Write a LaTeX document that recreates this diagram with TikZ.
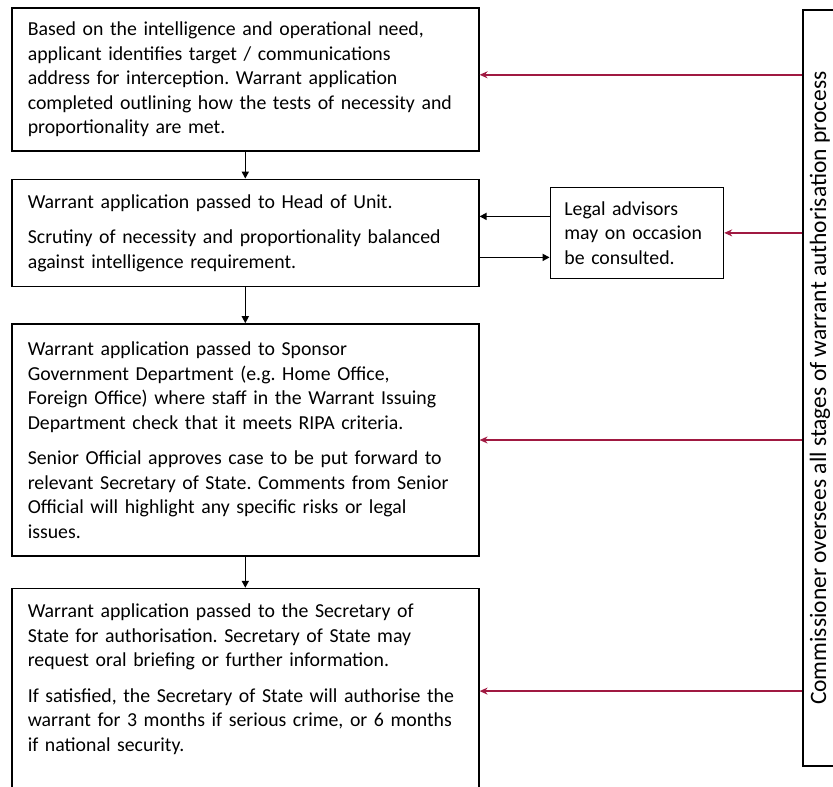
\documentclass[tikz,border=0pt]{standalone}
\usepackage{fontspec}
\setmainfont{Carlito}
\frenchspacing
\usetikzlibrary{positioning,arrows.meta}
\definecolor{oversight}{RGB}{160,25,65}

\begin{document}
\begin{tikzpicture}[x=1pt, y=-1pt,
    stage/.style = {draw, line width=1.6pt, text width=435pt, align=left, inner xsep=16pt, inner ysep=0pt, font=\fontsize{19.8}{24.5}\selectfont},
    advice/.style = {draw, line width=1.6pt, text width=145pt, align=left, inner xsep=14pt, inner ysep=0pt, minimum height=91pt, font=\fontsize{19.8}{24.5}\selectfont},
    comm/.style = {draw, line width=1.6pt, rotate=90, minimum width=756pt, minimum height=34pt, inner sep=0pt, font=\fontsize{23.5}{26}\selectfont},
    flow/.style = {line width=1.6pt, -{Triangle[length=7pt,width=7pt]}},
    watch/.style = {draw=oversight, line width=1.8pt, -{Stealth[length=8pt,width=7pt]}}]
    \clip (0,0) rectangle (833,787);
    \node[stage, anchor=north west, minimum height=143pt] (b1) at (11,7) {Based on the intelligence and operational need,\\ applicant identifies target / communications\\ address for interception. Warrant application\\ completed outlining how the tests of necessity and\\ proportionality are met.};
    \node[stage, minimum height=107pt] (b2) [below=27pt of b1] {Warrant application passed to Head of Unit.\\[11pt] Scrutiny of necessity and proportionality balanced\\ against intelligence requirement.};
    \node[stage, minimum height=232pt] (b3) [below=36pt of b2] {Warrant application passed to Sponsor\\ Government Department (e.g. Home Office,\\ Foreign Office) where staff in the Warrant Issuing\\ Department check that it meets RIPA criteria.\\[11pt] Senior Official approves case to be put forward to\\ relevant Secretary of State. Comments from Senior\\ Official will highlight any specific risks or legal\\ issues.};
    \node[stage, minimum height=210pt, text depth=165pt] (b4) [below=31pt of b3] {Warrant application passed to the Secretary of\\ State for authorisation. Secretary of State may\\ request oral briefing or further information.\\[11pt] If satisfied, the Secretary of State will authorise the\\ warrant for 3 months if serious crime, or 6 months\\ if national security.};
    \node[advice] (legal) [right=70pt of b2] {Legal advisors\\ may on occasion\\ be consulted.};
    \node[comm] (comm) at (820,388) {Commissioner oversees all stages of warrant authorisation process};
    % down the chain
    \draw[flow] (b1) -- (b2);
    \draw[flow] (b2) -- (b3);
    \draw[flow] (b3) -- (b4);
    \draw[flow] ([yshift=16.5pt]legal.west) -- ([yshift=16.5pt]legal.west -| b2.east);
    \draw[flow] ([yshift=-24.5pt]b2.east) -- ([yshift=-24.5pt]b2.east -| legal.west);
    % oversight
    \draw[watch] ([yshift=4.5pt]b1.east -| comm.north) -- ([yshift=4.5pt]b1.east);
    \draw[watch] (legal.east -| comm.north) -- (legal.east);
    \draw[watch] (b3.east -| comm.north) -- (b3.east);
    \draw[watch] ([yshift=2.5pt]b4.east -| comm.north) -- ([yshift=2.5pt]b4.east);
\end{tikzpicture}
\end{document}
